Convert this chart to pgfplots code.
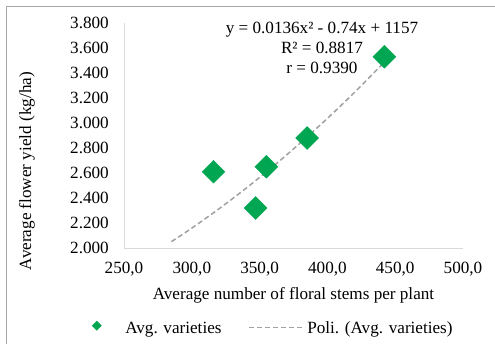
\documentclass[border=0pt]{standalone}
\usepackage{pgfplots}
\pgfplotsset{compat=1.18}
\usepackage{fontspec}
\setmainfont{Liberation Serif}
\definecolor{mygreen}{HTML}{00A651}
\definecolor{trendgray}{HTML}{A0A0A0}
\definecolor{axgray}{HTML}{D9D9D9}
\definecolor{framegray}{HTML}{A6A6A6}
\begin{document}
\fontsize{17.2pt}{20pt}\selectfont
\begin{tikzpicture}
\useasboundingbox (0,0) rectangle (495bp,344bp);
\draw[framegray, line width=1bp] (6bp,0) -- (6bp,337bp) -- (495bp,337bp);
\begin{axis}[
  at={(124bp,96bp)}, anchor=south west,
  scale only axis, width=339bp, height=225bp,
  xmin=250, xmax=500, ymin=2000, ymax=3800,
  xtick={250,300,...,500}, ytick={2000,2200,...,3800},
  axis x line*=bottom, axis y line*=left,
  axis line style={draw=axgray, line width=1bp, -},
  major tick length=0pt,
  font=\fontsize{17.2pt}{20pt}\selectfont,
  /pgf/number format/assume math mode=true,
  xticklabel style={/pgf/number format/fixed, /pgf/number format/fixed zerofill, /pgf/number format/precision=1, /pgf/number format/use comma, /pgf/number format/1000 sep={}, /tikz/anchor=base, /tikz/yshift=-25.8bp},
  yticklabel style={/pgf/number format/fixed, /pgf/number format/precision=0, /pgf/number format/1000 sep={.}, /tikz/anchor=east, /tikz/inner sep=0pt, /tikz/xshift=-15bp},
  xlabel={Average number of floral stems per plant},
  ylabel={Average flower yield (kg/ha)},
  xlabel style={at={(axis description cs:0.5,-0.209)}, anchor=center},
  ylabel style={at={(axis description cs:-0.286,0.342)}, anchor=center},
  legend columns=2,
  legend style={at={(axis description cs:-0.106,-0.357)}, anchor=west, draw=none, fill=none,
    inner sep=0pt, column sep=0pt, nodes={inner sep=0pt, anchor=base west},
    font=\fontsize{17.2pt}{20pt}\selectfont, /tikz/every even column/.append style={column sep=27bp}},
  clip=false,
]
\addplot[only marks, mark=square*, mark size=8.1bp,
  mark options={rotate=45, fill=mygreen, draw=mygreen},
  legend image code/.code={\path[draw=none] (0bp,0) -- (37bp,0); \node[fill=mygreen, draw=none, rotate=45, minimum size=7bp, inner sep=0pt] at (5bp,0.35em) {};}]
  coordinates {(316,2610) (355,2650) (347,2320) (385,2880) (442,3530)};
\addlegendentry{Avg. varieties}
\addplot[trendgray, line width=1.5bp, dash pattern=on 5bp off 3bp, smooth,
  legend image code/.code={\path[draw=none] (0bp,0) -- (58bp,0); \draw[trendgray, line width=1.5bp, dash pattern=on 5bp off 3bp] (0bp,0.35em) -- (56bp,0.35em);}]
  coordinates {(285,2051) (300,2159) (320,2313) (340,2478) (360,2653) (380,2840) (400,3037) (420,3245) (442,3487)};
\addlegendentry{Poli. (Avg. varieties)}
\node[align=center, anchor=center, font=\fontsize{17.2pt}{20pt}\selectfont] at (axis description cs:0.584,0.889)
  {y = 0.0136x² - 0.74x + 1157\\R² = 0.8817\\r = 0.9390};
\end{axis}
\end{tikzpicture}
\end{document}
